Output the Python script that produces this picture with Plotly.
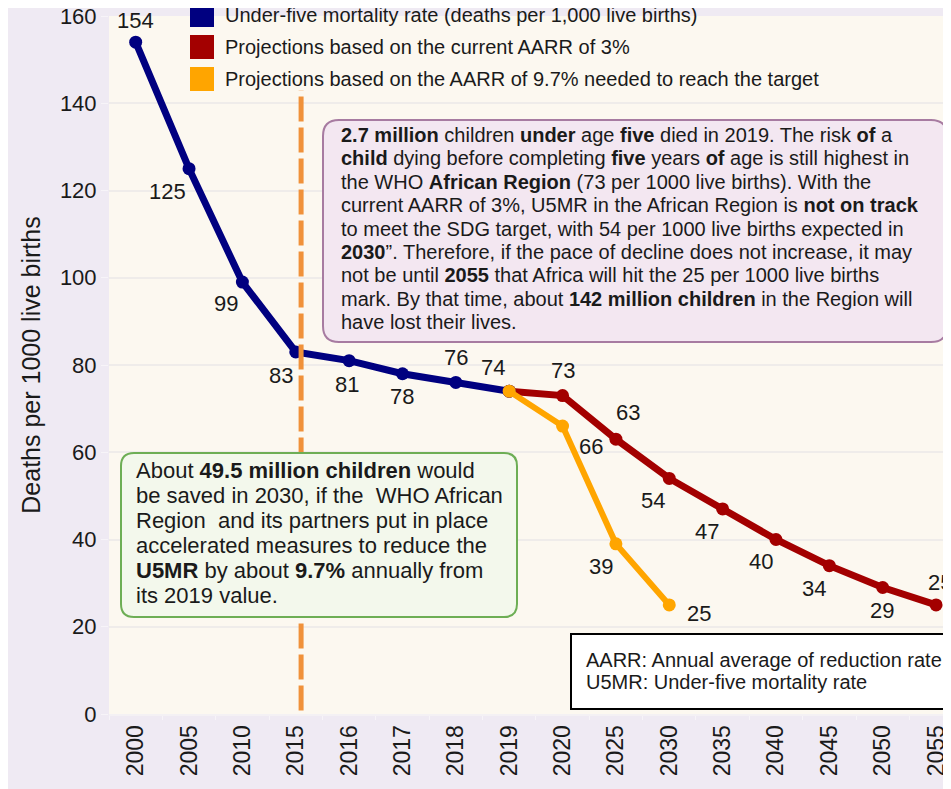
import plotly.graph_objects as go

# ---------------- data ----------------
years = ["2000", "2005", "2010", "2015", "2016", "2017", "2018", "2019",
         "2020", "2025", "2030", "2035", "2040", "2045", "2050", "2055"]

u5mr_years = ["2000", "2005", "2010", "2015", "2016", "2017", "2018", "2019"]
u5mr_values = [154, 125, 99, 83, 81, 78, 76, 74]

current_years = ["2019", "2020", "2025", "2030", "2035", "2040", "2045", "2050", "2055"]
current_values = [74, 73, 63, 54, 47, 40, 34, 29, 25]

target_years = ["2019", "2020", "2025", "2030"]
target_values = [74, 66, 39, 25]

y_ticks = [0, 20, 40, 60, 80, 100, 120, 140, 160]

series_names = [
    "Under-five mortality rate (deaths per 1,000 live births)",
    "Projections based on the current AARR of 3%",
    "Projections based on the AARR of 9.7% needed to reach the target",
]

# label offsets (pixels) for the value labels -- styling only
u5mr_label_shift = [(0, 22), (-22, -23), (-16, -21), (-15, -24), (-2, -24), (0, -23), (0, 25), (-16, 24)]
current_label_shift = [None, (0, 25), (12, 27), (-16, -22), (-16, -23), (-15, -22), (-15, -23), (-1, -23), (4, 22)]
target_label_shift = [None, (28, -20), (-15, -23), (30, -9)]

# ---------------- style ----------------
FONT = "Liberation Sans, Arial, sans-serif"
TXT = "#1a1a1a"
NAVY = "#000080"
DARKRED = "#A30000"
ORANGE = "#FFA500"
DASH = "#F0913A"
OUTER_BG = "#EFEAF3"
PLOT_BG = "#FCF8F0"

# the page places the figure 8 px in from the top-left corner
OFF = 8
W, H = 951 - OFF, 789 - OFF
PLOT_L, PLOT_R, PLOT_T, PLOT_B = 109, 951, 16, 714  # plot area in window pixels
ML, MR, MT, MB = PLOT_L - OFF, 0, PLOT_T - OFF, 789 - PLOT_B
PW, PH = PLOT_R - PLOT_L, PLOT_B - PLOT_T


def px(x):
    return (x - PLOT_L) / PW


def py(y):
    return (PLOT_B - y) / PH


def rounded_rect(x0, y0, x1, y1, r):
    pts = [
        f"M{px(x0 + r)},{py(y0)}",
        f"L{px(x1 - r)},{py(y0)}",
        f"Q{px(x1)},{py(y0)} {px(x1)},{py(y0 + r)}",
        f"L{px(x1)},{py(y1 - r)}",
        f"Q{px(x1)},{py(y1)} {px(x1 - r)},{py(y1)}",
        f"L{px(x0 + r)},{py(y1)}",
        f"Q{px(x0)},{py(y1)} {px(x0)},{py(y1 - r)}",
        f"L{px(x0)},{py(y0 + r)}",
        f"Q{px(x0)},{py(y0)} {px(x0 + r)},{py(y0)}",
        "Z",
    ]
    return " ".join(pts)


fig = go.Figure()

fig.add_trace(go.Scatter(x=current_years, y=current_values, mode="lines+markers",
                         name=series_names[1], showlegend=False,
                         line=dict(color=DARKRED, width=7), marker=dict(color=DARKRED, size=13)))
fig.add_trace(go.Scatter(x=u5mr_years, y=u5mr_values, mode="lines+markers",
                         name=series_names[0], showlegend=False,
                         line=dict(color=NAVY, width=7), marker=dict(color=NAVY, size=13)))
fig.add_trace(go.Scatter(x=target_years, y=target_values, mode="lines+markers",
                         name=series_names[2], showlegend=False,
                         line=dict(color=ORANGE, width=6), marker=dict(color=ORANGE, size=13)))

annotations = []


def add_value_labels(xs, ys, shifts):
    for xv, yv, sh in zip(xs, ys, shifts):
        if sh is None:
            continue
        annotations.append(dict(x=years.index(xv), y=yv, xref="x", yref="y", text=str(yv),
                                showarrow=False, xshift=sh[0], yshift=sh[1],
                                font=dict(family=FONT, size=22, color=TXT)))


add_value_labels(u5mr_years, u5mr_values, u5mr_label_shift)
add_value_labels(current_years, current_values, current_label_shift)
add_value_labels(target_years, target_values, target_label_shift)

shapes = []

# vertical dashed line near 2015
shapes.append(dict(type="line", xref="x", yref="y", x0=3.1, x1=3.1, y0=0.8, y1=143,
                   line=dict(color=DASH, width=5, dash="25px,6px"), layer="above"))

# manual legend
legend_colors = [NAVY, DARKRED, ORANGE]
legend_rows = [15, 47, 79]
for c, name, yc in zip(legend_colors, series_names, legend_rows):
    shapes.append(dict(type="rect", xref="paper", yref="paper",
                       x0=px(190), x1=px(214), y0=py(yc - 12), y1=py(yc + 12),
                       fillcolor=c, line=dict(width=0), layer="above"))
    annotations.append(dict(x=px(223), y=py(yc), xref="paper", yref="paper", text=name,
                            showarrow=False, xanchor="left", yanchor="middle",
                            font=dict(family=FONT, size=20, color=TXT)))

# purple info box
shapes.append(dict(type="path", xref="paper", yref="paper",
                   path=rounded_rect(323, 120, 947, 342, 16),
                   fillcolor="#F3E7F1", line=dict(color="#A77BA1", width=2), layer="above"))
purple_lines = [
    "<b>2.7 million</b> children <b>under</b> age <b>five</b> died in 2019. The risk <b>of</b> a",
    "<b>child</b> dying before completing <b>five</b> years <b>of</b> age is still highest in",
    "the WHO <b>African Region</b> (73 per 1000 live births). With the",
    "current AARR of 3%, U5MR in the African Region is <b>not on track</b>",
    "to meet the SDG target, with 54 per 1000 live births expected in",
    "<b>2030</b>\u201d. Therefore, if the pace of decline does not increase, it may",
    "not be until <b>2055</b> that Africa will hit the 25 per 1000 live births",
    "mark. By that time, about <b>142 million children</b> in the Region will",
    "have lost their lives.",
]
for i, t in enumerate(purple_lines):
    annotations.append(dict(x=px(339), y=py(135 + i * 23.4), xref="paper", yref="paper", text=t,
                            showarrow=False, xanchor="left", yanchor="middle",
                            font=dict(family=FONT, size=20, color=TXT)))

# green info box
shapes.append(dict(type="path", xref="paper", yref="paper",
                   path=rounded_rect(121, 453, 517, 617, 13),
                   fillcolor="#F3F8EC", line=dict(color="#6DAE55", width=2), layer="above"))
green_lines = [
    "About <b>49.5 million children</b> would",
    "be saved in 2030, if the \u00a0WHO African",
    "Region \u00a0and its partners put in place",
    "accelerated measures to reduce the",
    "<b>U5MR</b> by about <b>9.7%</b> annually from",
    "its 2019 value.",
]
for i, t in enumerate(green_lines):
    annotations.append(dict(x=px(134), y=py(470 + i * 25), xref="paper", yref="paper", text=t,
                            showarrow=False, xanchor="left", yanchor="middle",
                            font=dict(family=FONT, size=22, color=TXT)))

# abbreviation box
shapes.append(dict(type="rect", xref="paper", yref="paper",
                   x0=px(571), x1=px(975), y0=py(634), y1=py(709),
                   fillcolor="white", line=dict(color="black", width=2), layer="above"))
abbr_lines = ["AARR: Annual average of reduction rate", "U5MR: Under-five mortality rate"]
for i, t in enumerate(abbr_lines):
    annotations.append(dict(x=px(584), y=py(660 + i * 22), xref="paper", yref="paper", text=t,
                            showarrow=False, xanchor="left", yanchor="middle",
                            font=dict(family=FONT, size=20, color=TXT)))

fig.update_layout(
    width=W, height=H,
    margin=dict(l=ML, r=MR, t=MT, b=MB, autoexpand=False),
    paper_bgcolor=OUTER_BG,
    plot_bgcolor=PLOT_BG,
    font=dict(family=FONT, color=TXT),
    showlegend=False,
    shapes=shapes,
    annotations=annotations,
    xaxis=dict(type="category", categoryorder="array", categoryarray=years,
               range=[-0.5, 15.28], showgrid=False, zeroline=False,
               tickangle=-90, tickfont=dict(family=FONT, size=23, color=TXT),
               ticks="outside", ticklen=4, tickcolor="#F7F4F8", tickson="boundaries",
               showline=True, linecolor="#F4F1F4", linewidth=2),
    yaxis=dict(range=[0, 160], tickvals=y_ticks, showgrid=True, gridcolor="#EFECEA", gridwidth=2,
               zeroline=False, ticks="outside", ticklen=7, tickcolor="#F7F4F8",
               ticklabeloverflow="allow",
               tickfont=dict(family=FONT, size=22, color=TXT),
               title=dict(text="Deaths per 1000 live births", standoff=12,
                          font=dict(family=FONT, size=25, color=TXT))),
)

fig.write_html("out.html")
